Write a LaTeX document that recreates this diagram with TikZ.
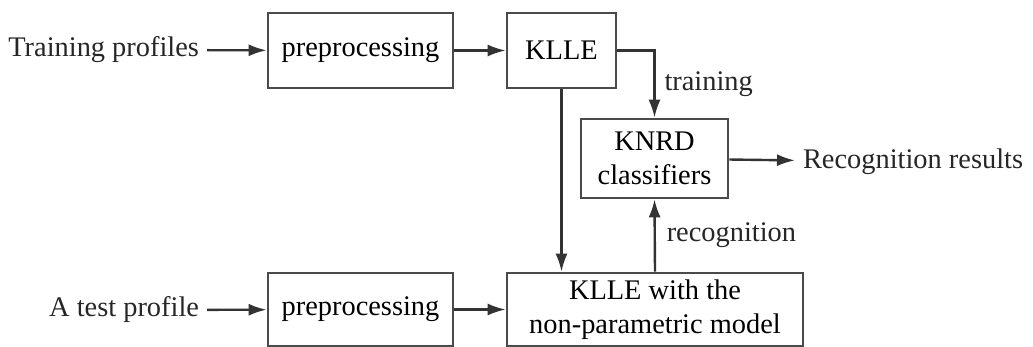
\documentclass[tikz,border=0pt]{standalone}
\usepackage{fontspec}
\setmainfont{Liberation Serif}
\usetikzlibrary{arrows.meta}
\definecolor{boxgray}{HTML}{4A4A4A}

\begin{document}
\begin{tikzpicture}[x=.5pt,y=-.5pt,font=\rmfamily\fontsize{14.2}{17}\selectfont,
  box/.style={draw=boxgray,line width=1.3pt,align=center,inner sep=0pt,font=\rmfamily\fontsize{14.2}{17}\selectfont},
  lbl/.style={inner sep=0pt,outer sep=4pt,text=black!85},
  arr/.style={draw=black!80,line width=1.2pt,-{Latex[length=9pt,width=6pt]}}]
\useasboundingbox (0,0) rectangle (1033,347);
\node[lbl,anchor=east] (train) at (207,50) {Training profiles};
\node[box,minimum width=92.5pt,minimum height=37.5pt] (pre1) at (360.5,50.5) {preprocessing};
\node[box,minimum width=54.5pt,minimum height=37.5pt] (klle) at (561.5,50.5) {KLLE};
\node[box,minimum width=73.5pt,minimum height=39.5pt] (knrd) at (654.5,158.5) {KNRD\\classifiers};
\node[lbl,anchor=west] (res) at (795,162) {Recognition results};
\node[lbl,anchor=east] (test) at (207,310) {A test profile};
\node[box,minimum width=92.5pt,minimum height=36.5pt] (pre2) at (360.5,309.5) {preprocessing};
\node[box,minimum width=148pt,minimum height=36.5pt] (klle2) at (655,309.5) {KLLE with the\\non-parametric model};
\draw[arr] (train) -- (pre1);
\draw[arr] (pre1) -- (klle);
\draw[arr] (klle.east) -| (knrd.north) node[lbl,pos=.75,anchor=west,outer sep=0pt,xshift=5pt] {training};
\draw[arr] (knrd) -- (res);
\draw[arr] (klle.south) -- (klle.south |- klle2.north);
\draw[arr] (klle2.north) -- (knrd.south) node[lbl,midway,anchor=west,outer sep=0pt,xshift=6pt] {recognition};
\draw[arr] (test) -- (pre2);
\draw[arr] (pre2) -- (klle2);
\end{tikzpicture}
\end{document}
